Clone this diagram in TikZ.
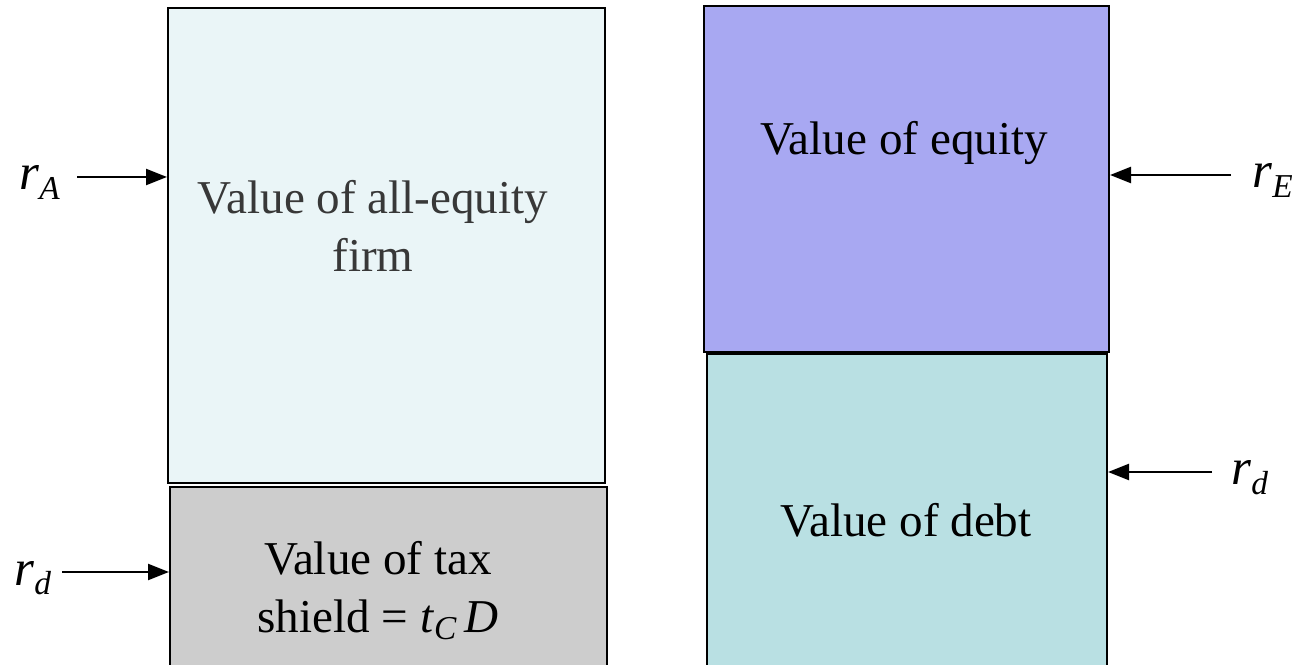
\documentclass[tikz,border=0pt]{standalone}
\usepackage{fontspec}
\setmainfont{Liberation Serif}
\usetikzlibrary{arrows.meta}
\definecolor{ltcyan}{HTML}{EAF5F7}
\definecolor{ltgray}{HTML}{CDCDCD}
\definecolor{ltblue}{HTML}{A8A8F2}
\definecolor{ltteal}{HTML}{B9E0E3}
\newcommand{\sub}[1]{{\fontsize{19}{19}\selectfont\raisebox{-0.6ex}{\textit{#1}}}}
\newcommand{\subs}[1]{{\fontsize{19}{19}\selectfont\raisebox{-0.45ex}{\textit{#1}}}}
\tikzset{
  box/.style={draw=black, line width=1.2pt, anchor=north west, inner sep=0pt},
  big/.style={font=\fontsize{26.8}{33}\selectfont, align=center, inner sep=0pt},
  lbl/.style={font=\fontsize{29}{29}\selectfont, inner sep=0pt},
  arr/.style={line width=1.3pt, -{Triangle[length=0.42cm,width=0.32cm]}}
}
\begin{document}
\begin{tikzpicture}[x=0.02cm,y=-0.02cm]
\useasboundingbox (0,0) rectangle (1292,665);
\clip (0,0) rectangle (1292,665);
% boxes
\node[box, fill=ltcyan, minimum width=8.74cm, minimum height=9.5cm] (lt) at (167,7) {};
\node[box, fill=ltgray, minimum width=8.74cm, minimum height=4cm] (lb) at (169,486) {};
\node[box, fill=ltblue, minimum width=8.1cm, minimum height=6.92cm] (rt) at (703,5) {};
\node[box, fill=ltteal, minimum width=8.0cm, minimum height=7cm] (rb) at (706,353) {};
% texts
\node[big, text=black!78] (tlt) at (373,226) {Value of all-equity\\firm};
\node[big] (tlb) at (378,591) {Value of tax\\shield = \textit{t}\subs{C}\,\textit{D}};
\node[big] (trt) at (904,143) {Value of equity};
\node[big] (trb) at (906,520) {Value of debt};
% arrows and labels
\coordinate (aA) at (77,177);
\draw[arr] (aA) -- (aA -| lt.west);
\node[lbl, anchor=base west] (rA) at (19,190) {\textit{r}\sub{A}};
\coordinate (ad) at (62,572);
\draw[arr] (ad) -- (ad -| lb.west);
\node[lbl, anchor=base west] (rd1) at (14,585) {\textit{r}\sub{d}};
\coordinate (aE) at (1231,175);
\draw[arr] (aE) -- (aE -| rt.east);
\node[lbl, anchor=base west] (rE) at (1252,188) {\textit{r}\sub{E}};
\coordinate (ad2) at (1212,472);
\draw[arr] (ad2) -- (ad2 -| rb.east);
\node[lbl, anchor=base west] (rd2) at (1231,485) {\textit{r}\sub{d}};
\end{tikzpicture}
\end{document}
